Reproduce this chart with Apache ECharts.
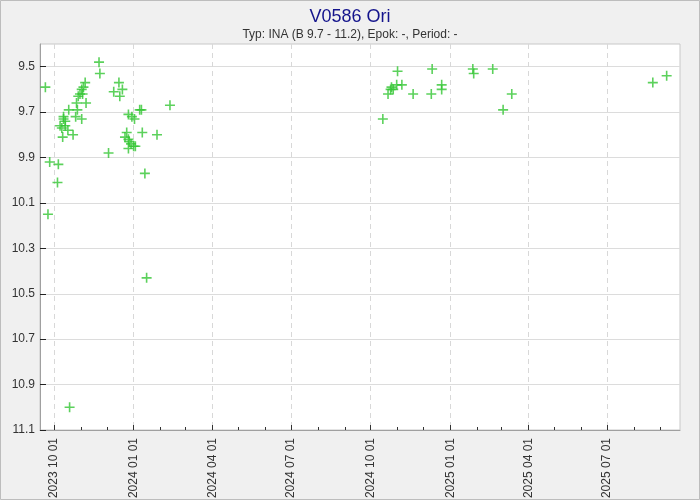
<!DOCTYPE html>
<html>
<head>
<meta charset="utf-8">
<script src="https://cdn.jsdelivr.net/npm/echarts@6/dist/echarts.min.js"></script>
<style>
html,body{margin:0;padding:0;background:#f0f0f0;}
#c{width:700px;height:500px;}
</style>
</head>
<body>
<div id="c"></div>
<script>
const obsDates = [
  '2023-09-21','2023-11-22','2023-11-23','2023-11-06','2023-11-04','2023-11-02','2023-10-31','2023-11-03',
  '2023-10-29','2023-10-27','2023-11-07','2023-10-18','2023-10-28','2023-10-26','2023-11-02','2023-10-12',
  '2023-10-12','2023-10-14','2023-10-08','2023-10-10','2023-10-14','2023-10-17','2023-10-11','2023-10-23',
  '2023-12-15','2023-12-09','2023-12-19','2023-12-16','2023-12-26','2023-12-30','2024-01-02','2024-01-08',
  '2024-01-10','2024-02-12','2023-12-24','2023-12-22','2023-12-26','2023-12-27','2023-12-29','2024-01-01',
  '2023-12-26','2024-01-03','2024-01-11','2024-01-28','2023-12-03','2023-09-26','2023-10-06','2024-01-14',
  '2023-10-05','2023-09-24','2024-01-16','2023-10-19',
  '2024-11-01','2024-12-11','2025-01-27','2025-01-28','2025-02-19','2024-10-21','2024-10-24','2024-10-25',
  '2024-10-27','2024-10-31','2024-11-06','2024-11-19','2024-12-10','2024-12-22','2024-12-22','2025-03-13',
  '2025-03-03','2024-10-15','2025-08-23','2025-09-08'
];
const obsMags = [
  9.59, 9.48, 9.53, 9.57, 9.59, 9.60, 9.62, 9.62,
  9.63, 9.66, 9.66, 9.69, 9.69, 9.72, 9.73, 9.72,
  9.73, 9.74, 9.76, 9.77, 9.76, 9.78, 9.81, 9.80,
  9.57, 9.61, 9.60, 9.63, 9.71, 9.72, 9.73, 9.69,
  9.69, 9.67, 9.79, 9.81, 9.82, 9.83, 9.84, 9.85,
  9.86, 9.85, 9.79, 9.80, 9.88, 9.92, 9.93, 9.97,
  10.01, 10.15, 10.43, 11.00,
  9.52, 9.51, 9.51, 9.53, 9.51, 9.62, 9.60, 9.59,
  9.60, 9.58, 9.58, 9.62, 9.62, 9.58, 9.60, 9.62,
  9.69, 9.73, 9.57, 9.54
];
const yTickValues = [9.5, 9.7, 9.9, 10.1, 10.3, 10.5, 10.7, 10.9, 11.1];
const xMajorTicks = ['2023-10-01','2024-01-01','2024-04-01','2024-07-01','2024-10-01','2025-01-01','2025-04-01','2025-07-01'];
const xRange = ['2023-09-14T19:00:00', '2025-09-23T10:00:00'];

function ts(s){ return new Date(s.length === 10 ? s + 'T00:00:00' : s).getTime(); }
const xMajorTs = xMajorTicks.map(ts);
const xMinorTs = [];
for (let y = 2023; y <= 2025; y++) {
  for (let m = 1; m <= 12; m++) {
    const t = new Date(y, m - 1, 1).getTime();
    if (t > ts(xRange[0]) && t < ts(xRange[1])) xMinorTs.push(t);
  }
}
const pts = obsDates.map((d, i) => [ts(d), obsMags[i]]);
const pad = n => (n < 10 ? '0' : '') + n;
const plus = 'path://M4.2,0H5.8V4.2H10V5.8H5.8V10H4.2V5.8H0V4.2H4.2Z';
const font = 'Liberation Sans, Arial, sans-serif';

const chart = echarts.init(document.getElementById('c'), null, {renderer: 'canvas'});
chart.setOption({
  backgroundColor: '#f0f0f0',
  animation: false,
  title: {
    text: 'V0586 Ori',
    subtext: 'Typ: INA (B 9.7 - 11.2), Epok: -, Period: -',
    left: 'center', top: 3, itemGap: 3,
    textStyle: {fontSize: 18, fontWeight: 'normal', color: '#14148c', fontFamily: font},
    subtextStyle: {fontSize: 12, color: '#333', fontFamily: font}
  },
  graphic: [{type: 'rect', silent: true, z: 100,
    shape: {x: 0.5, y: 0.5, width: 699, height: 499},
    style: {fill: 'none', stroke: '#bdbdbd', lineWidth: 1}}],
  grid: {left: 40, right: 20, top: 44, bottom: 70, containLabel: false, outerBoundsMode: 'none',
    show: true, backgroundColor: '#fff', borderColor: '#c8c8c8', borderWidth: 1},
  xAxis: [{
    type: 'value', min: ts(xRange[0]), max: ts(xRange[1]),
    axisLine: {lineStyle: {color: '#a0a0a0'}},
    axisTick: {show: true, inside: true, length: 5, customValues: xMajorTs, lineStyle: {color: '#333'}},
    axisLabel: {customValues: xMajorTs, rotate: 90, fontSize: 12, color: '#333', fontFamily: font, margin: 8,
      formatter: v => { const d = new Date(v); return d.getFullYear() + ' ' + pad(d.getMonth() + 1) + ' ' + pad(d.getDate()); }},
    splitLine: {show: true, lineStyle: {color: '#d8d8d8', type: [5, 4]}}
  }, {
    type: 'value', min: ts(xRange[0]), max: ts(xRange[1]), position: 'bottom',
    axisLine: {show: false}, axisLabel: {show: false}, splitLine: {show: false},
    axisTick: {show: true, inside: true, length: 3, customValues: xMinorTs, lineStyle: {color: '#333'}}
  }],
  yAxis: {
    type: 'value', inverse: true, min: 9.4, max: 11.1,
    name: 'Magn', nameLocation: 'middle', nameGap: 29, nameRotate: 90,
    nameTextStyle: {fontSize: 11, color: '#222', fontFamily: font},
    axisLine: {show: true, lineStyle: {color: '#a0a0a0'}},
    axisTick: {show: true, inside: true, length: 6, customValues: yTickValues, lineStyle: {color: '#222'}},
    axisLabel: {customValues: yTickValues, fontSize: 12, color: '#333', fontFamily: font, margin: 5,
      formatter: v => v.toFixed(1)},
    splitLine: {show: true, lineStyle: {color: '#dcdcdc'}}
  },
  series: [{
    type: 'scatter', xAxisIndex: 0, data: pts,
    symbol: plus, symbolSize: 10,
    itemStyle: {color: '#33c633'}
  }]
});
</script>
</body>
</html>
